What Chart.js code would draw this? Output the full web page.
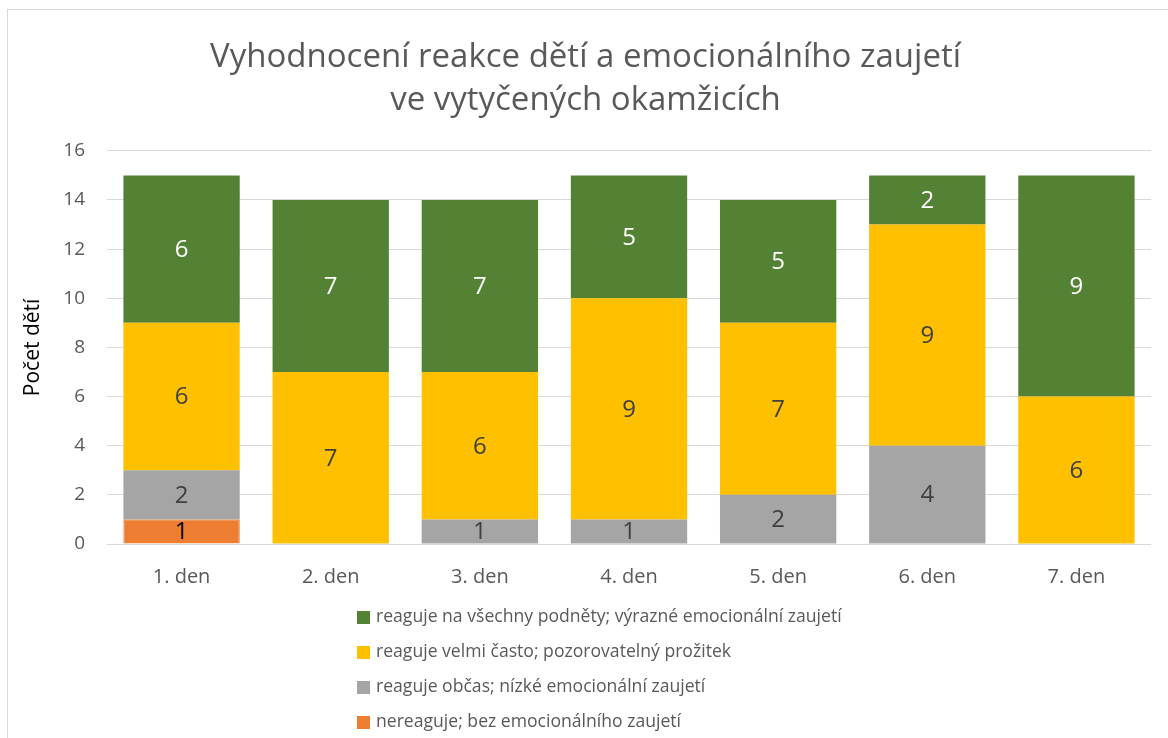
<!DOCTYPE html>
<html>
<head>
<meta charset="utf-8">
<script src="https://cdn.jsdelivr.net/npm/chart.js@4/dist/chart.umd.min.js"></script>
<style>
  body { margin: 0; background: #fff; }
  #wrap { position: relative; width: 1168px; height: 738px; overflow: hidden; }
  #frame { position: absolute; left: 7px; top: 9px; width: 1200px; height: 800px; border: 1px solid #D9D9D9; }
  canvas { position: absolute; left: 0; top: 0; }
</style>
</head>
<body>
<div id="wrap">
  <div id="frame"></div>
  <canvas id="reakceChart" width="1168" height="738"></canvas>
</div>
<script>
// Kategorie a hodnoty (odspodu nahoru)
const dny = ['1. den', '2. den', '3. den', '4. den', '5. den', '6. den', '7. den'];
const nereaguje = [1, 0, 0, 0, 0, 0, 0];
const obcas = [2, 0, 1, 1, 2, 4, 0];
const velmiCasto = [6, 7, 6, 9, 7, 9, 6];
const vsechny = [6, 7, 7, 5, 5, 2, 9];
const yTicks = [0, 2, 4, 6, 8, 10, 12, 14, 16];

const font = '"Open Sans", "DejaVu Sans", sans-serif';
const gray = '#595959';

// popisky hodnot uvnitř segmentů
const hodnotyPlugin = {
    id: 'hodnoty',
    afterDatasetsDraw(chart) {
        const ctx = chart.ctx;
        ctx.save();
        ctx.font = '24px ' + font;
        ctx.textAlign = 'center';
        ctx.textBaseline = 'middle';
        chart.data.datasets.forEach((ds, i) => {
            const meta = chart.getDatasetMeta(i);
            meta.data.forEach((bar, j) => {
                const v = ds.data[j];
                if (!v) return;
                ctx.fillStyle = ds.labelColor;
                ctx.fillText(String(v), bar.x, (bar.y + bar.base) / 2 + 1);
            });
        });
        ctx.restore();
    }
};

// svislá legenda pod grafem
const legendaPlugin = {
    id: 'legenda',
    afterDraw(chart) {
        const ctx = chart.ctx;
        const area = chart.chartArea;
        ctx.save();
        ctx.font = '17.6px ' + font;
        ctx.textBaseline = 'middle';
        ctx.textAlign = 'left';
        const items = chart.data.datasets.slice().reverse();
        const x0 = 357;
        let y = area.bottom + 73;
        items.forEach(ds => {
            ctx.fillStyle = ds.backgroundColor;
            ctx.fillRect(x0, y - 6, 13, 13);
            ctx.fillStyle = gray;
            ctx.fillText(ds.label, x0 + 19, y);
            y += 35;
        });
        ctx.restore();
    }
};

const ctx1 = document.getElementById('reakceChart').getContext('2d');
const reakceChart = new Chart(ctx1, {
    type: 'bar',
    data: {
        labels: dny,
        datasets: [{
            label: 'nereaguje; bez emocionálního zaujetí',
            data: nereaguje,
            backgroundColor: '#ED7D31',
            borderColor: '#E46C0A',
            borderWidth: 1,
            labelColor: '#000000'
        }, {
            label: 'reaguje občas; nízké emocionální zaujetí',
            data: obcas,
            backgroundColor: '#A5A5A5',
            labelColor: '#404040'
        }, {
            label: 'reaguje velmi často; pozorovatelný prožitek',
            data: velmiCasto,
            backgroundColor: '#FFC000',
            labelColor: '#404040'
        }, {
            label: 'reaguje na všechny podněty; výrazné emocionální zaujetí',
            data: vsechny,
            backgroundColor: '#548235',
            labelColor: '#FFFFFF'
        }]
    },
    options: {
        responsive: false,
        animation: false,
        layout: {
            padding: { left: 20, right: 17, top: 0, bottom: 154 }
        },
        datasets: {
            bar: { barPercentage: 0.78, categoryPercentage: 1 }
        },
        plugins: {
            legend: { display: false },
            tooltip: { enabled: false },
            title: {
                display: true,
                text: ['Vyhodnocení reakce dětí a emocionálního zaujetí', 've vytyčených okamžicích'],
                color: gray,
                font: { family: font, size: 33, weight: 'normal', lineHeight: 1.3 },
                padding: { top: 36, bottom: 29 }
            }
        },
        scales: {
            x: {
                stacked: true,
                grid: { display: false },
                border: { display: false },
                ticks: { color: gray, font: { family: font, size: 20 }, padding: 13 },
                afterFit: s => { s.height = 40; }
            },
            y: {
                stacked: true,
                min: 0,
                max: 16,
                afterBuildTicks: s => { s.ticks = yTicks.map(v => ({ value: v })); },
                grid: { color: '#D9D9D9', lineWidth: 1, drawTicks: false },
                border: { display: false },
                ticks: { color: gray, font: { family: font, size: 19 }, padding: 22 },
                title: {
                    display: true,
                    text: 'Počet dětí',
                    color: '#000000',
                    font: { family: font, size: 21 },
                    padding: { top: 0, bottom: 2 }
                },
                afterFit: s => { s.width = 87; }
            }
        }
    },
    plugins: [hodnotyPlugin, legendaPlugin]
});
</script>
</body>
</html>
